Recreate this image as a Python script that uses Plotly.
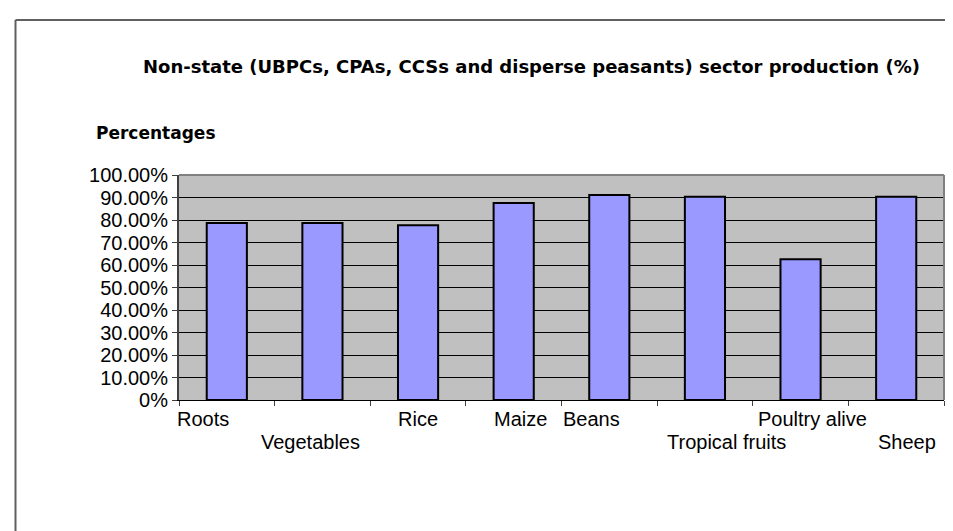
import plotly.graph_objects as go

categories = ["Roots", "Vegetables", "Rice", "Maize", "Beans", "Tropical fruits", "Poultry alive", "Sheep"]
values = [0.787, 0.787, 0.777, 0.876, 0.911, 0.903, 0.626, 0.903]
y_tickvals = [0, 0.1, 0.2, 0.3, 0.4, 0.5, 0.6, 0.7, 0.8, 0.9, 1.0]
y_ticktext = ["0%", "10.00%", "20.00%", "30.00%", "40.00%", "50.00%", "60.00%", "70.00%", "80.00%", "90.00%", "100.00%"]

# style: staggered label rows and small horizontal shifts (Excel-like placement)
label_rows = [0, 1, 0, 0, 0, 1, 0, 1]
label_shifts = [-24, -12, 0, 7, -18, 22, 12, 11]

W, H = 953, 531
L, R, T, B = 171, 17, 167, 139
pw, ph = W - L - R, H - T - B

def px_x(px):
    return (px - L) / pw

def px_y(py):
    return (H - B - py) / ph

fig = go.Figure()
fig.add_trace(go.Bar(
    x=categories, y=values, width=0.42,
    marker=dict(color="#9999FF", line=dict(color="black", width=2)),
    hoverinfo="x+y",
))

annotations = []
for cat, row, sh in zip(categories, label_rows, label_shifts):
    annotations.append(dict(
        x=cat, xref="x", y=0, yref="paper", yanchor="top", xanchor="center",
        yshift=-6 - 23 * row, xshift=sh, showarrow=False, text=cat,
        font=dict(family="Liberation Sans, Arial", size=20, color="black"),
    ))
annotations.append(dict(
    x=px_x(523), xref="paper", y=px_y(58), yref="paper", xanchor="center", yanchor="middle",
    showarrow=False, text="<b>Non-state (UBPCs, CPAs, CCSs and disperse peasants) sector production (%)</b>",
    font=dict(family="DejaVu Sans", size=18, color="black"),
))
annotations.append(dict(
    x=px_x(86), xref="paper", y=px_y(125), yref="paper", xanchor="left", yanchor="middle",
    showarrow=False, text="<b>Percentages</b>",
    font=dict(family="DejaVu Sans", size=17, color="black"),
))

shapes = [
    # outer frame (left and top edges)
    dict(type="line", xref="paper", yref="paper", x0=px_x(7.5), x1=px_x(7.5), y0=px_y(12), y1=px_y(560),
         line=dict(color="#606060", width=2)),
    dict(type="line", xref="paper", yref="paper", x0=px_x(7.5), x1=px_x(980), y0=px_y(12), y1=px_y(12),
         line=dict(color="#606060", width=2)),
    # plot area border top/right
    dict(type="line", xref="paper", yref="paper", x0=0, x1=1, y0=1, y1=1, line=dict(color="#808080", width=2)),
    dict(type="line", xref="paper", yref="paper", x0=1, x1=1, y0=0, y1=1, line=dict(color="#808080", width=2)),
]

fig.update_layout(
    width=W, height=H,
    margin=dict(l=L, r=R, t=T, b=B),
    paper_bgcolor="white", plot_bgcolor="#C0C0C0",
    showlegend=False, bargap=0.58,
    annotations=annotations, shapes=shapes,
    xaxis=dict(
        type="category", range=[-0.5, 7.5], showticklabels=False,
        ticks="outside", tickson="boundaries", ticklen=5, tickcolor="#404040", tickwidth=1,
        showline=True, linecolor="black", linewidth=1, showgrid=False, fixedrange=True,
    ),
    yaxis=dict(
        range=[0, 1], tickvals=y_tickvals, ticktext=y_ticktext,
        ticks="outside", ticklen=5, tickcolor="#404040", tickwidth=1,
        showline=True, linecolor="#404040", linewidth=2,
        showgrid=True, gridcolor="black", gridwidth=1, zeroline=False,
        tickfont=dict(family="Liberation Sans, Arial", size=20, color="black"),
        fixedrange=True,
    ),
)

fig.write_html("out.html")
